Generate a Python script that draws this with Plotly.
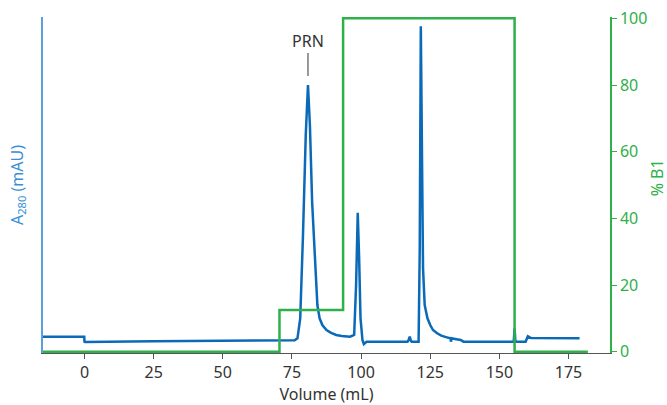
import plotly.graph_objects as go

# Blue A280 trace (volume mL, relative absorbance on 0-100 scale)
uv_volume = [-15, -0.1, 0, 0.2, 25, 50, 70, 76, 77, 78, 79, 80, 80.8, 81.5, 82.3, 83, 83.6, 84.2,
             85, 86, 87.5, 89, 91, 93, 96, 97.5, 98.2, 98.8, 99.3, 99.8, 100.5, 101, 102, 110,
             116.8, 117.2, 117.6, 118, 118.3, 120.8, 121.2, 121.6, 122, 122.4, 123, 124, 125, 126,
             127.5, 129, 131, 132.3, 132.5, 132.7, 134, 136, 137, 150, 155.2, 155.5, 155.8,
             159.5, 160.3, 161.5, 170, 179]
uv_value = [4.5, 4.5, 3.0, 2.9, 3.1, 3.2, 3.3, 3.4, 4, 10, 35, 65, 80, 68, 45, 35, 25, 14,
            10, 8, 6.5, 5.7, 5.0, 4.7, 4.5, 5, 20, 41.7, 28, 10, 3.5, 2.3, 3.0, 3.0,
            3.0, 3.5, 4.5, 3.3, 3.0, 3.0, 30, 97.6, 60, 25, 14, 10, 8, 6.5,
            5.5, 4.8, 4.3, 4, 3.0, 4, 3.8, 3.5, 3.0, 3.0, 3.0, 7, 3.0,
            3.0, 4.6, 4.1, 4, 4]

# Green %B1 gradient (step)
b1_volume = [-15, 70.5, 93.5, 155.5, 182]
b1_value = [0, 12.5, 100, 0, 0]

x_ticks = [0, 25, 50, 75, 100, 125, 150, 175]
y2_ticks = [0, 20, 40, 60, 80, 100]

BLUE = "#0a6ab8"
GREEN = "#2fb04a"
TXT = "#333333"
FONT = "Noto Sans"
FS = 16

fig = go.Figure()
fig.add_trace(go.Scatter(x=b1_volume, y=b1_value, mode="lines", line=dict(color=GREEN, width=2.5, shape="hv"),
                         yaxis="y2", showlegend=False))
fig.add_trace(go.Scatter(x=uv_volume, y=uv_value, mode="lines", line=dict(color=BLUE, width=2.5),
                         showlegend=False))

fig.add_shape(type="line", x0=80.8, x1=80.8, y0=82.7, y1=89.6, xref="x", yref="y",
              line=dict(color="#777777", width=1.5))
fig.add_annotation(x=80.8, y=93.2, xref="x", yref="y", text="PRN", showarrow=False,
                   font=dict(family=FONT, size=FS, color=TXT))
fig.add_annotation(x=1.083, y=0.52, xref="paper", yref="paper", text="% B1", showarrow=False,
                   textangle=-90, xanchor="center", yanchor="middle",
                   font=dict(family=FONT, size=FS, color=GREEN))

fig.update_layout(
    width=667, height=405,
    margin=dict(l=43, r=57, t=17, b=52, autoexpand=False),
    paper_bgcolor="white", plot_bgcolor="white",
    font=dict(family=FONT, size=FS, color=TXT),
    xaxis=dict(range=[-15, 190], tickvals=x_ticks, showgrid=False, zeroline=False, automargin=False,
               showline=True, linecolor="#555555", linewidth=1, ticks="outside", ticklen=5,
               tickcolor="#555555", tickfont=dict(size=FS, color=TXT), ticklabeloverflow="allow",
               title=dict(text="Volume (mL)", font=dict(size=FS, color=TXT), standoff=4)),
    yaxis=dict(range=[-0.4, 100.4], showgrid=False, zeroline=False, showticklabels=False, automargin=False,
               showline=True, linecolor="#5aa0dc", linewidth=1.5, ticks="",
               title=dict(text="A<sub>280</sub> (mAU)", font=dict(size=FS, color="#3a8fd6"), standoff=14)),
    yaxis2=dict(range=[-0.4, 100.4], overlaying="y", side="right", tickvals=y2_ticks, automargin=False,
                showgrid=False, zeroline=False, showline=True, linecolor=GREEN, linewidth=1.5,
                ticks="outside", ticklen=5, tickcolor=GREEN, tickfont=dict(size=FS, color=GREEN),
                ticklabeloverflow="allow"),
)

fig.write_html("out.html", config={"displayModeBar": False},
               post_script="document.body.style.margin='0';document.body.style.overflow='hidden';")
